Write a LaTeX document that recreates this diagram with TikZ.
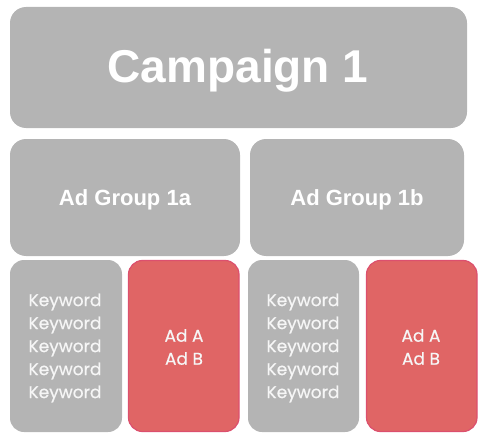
\documentclass[tikz,border=0pt]{standalone}
\usepackage{fontspec}
\setmainfont{Liberation Sans}
\newfontfamily\geofont[FakeBold=0.5]{Poppins}
\definecolor{boxgray}{RGB}{180,180,180}
\definecolor{adred}{RGB}{224,101,101}
\definecolor{adedge}{RGB}{220,80,110}
\definecolor{softwhite}{RGB}{246,246,246}
\tikzset{
  graybox/.style={fill=boxgray, rounded corners=16pt, draw=none},
  redbox/.style={fill=adred, draw=adedge, line width=1.2pt, rounded corners=16pt},
  bigtitle/.style={text=white, font=\fontsize{46}{50}\selectfont\bfseries},
  grouptitle/.style={text=white, font=\fontsize{22}{26}\selectfont\bfseries},
  listtext/.style={text=softwhite, align=center, font=\geofont\fontsize{17}{23}\selectfont},
}
\begin{document}
\begin{tikzpicture}[x=1pt,y=-1pt]
\useasboundingbox (0,0) rectangle (485,436);
% boxes
\fill[graybox] (10,7) rectangle (467,128);
\node[bigtitle] (camp) at (238,71) {Campaign 1};

\fill[graybox] (10,139) rectangle (240,256);
\node[grouptitle] (g1a) at (125,200) {Ad Group 1a};
\fill[graybox] (250,139) rectangle (464,256);
\node[grouptitle] (g1b) at (357,200) {Ad Group 1b};

\fill[graybox, rounded corners=14pt] (10,260) rectangle (122,432);
\node[listtext] (kw1) at (65,348) {Keyword\\Keyword\\Keyword\\Keyword\\Keyword};
\draw[redbox, rounded corners=14pt] (128.5,260.5) rectangle (239,431.5);
\node[listtext] (ad1) at (184,347) {Ad A\\Ad B};

\fill[graybox, rounded corners=14pt] (248,260) rectangle (359,432);
\node[listtext] (kw2) at (303,348) {Keyword\\Keyword\\Keyword\\Keyword\\Keyword};
\draw[redbox, rounded corners=14pt] (366.5,260.5) rectangle (477,431.5);
\node[listtext] (ad2) at (421,347) {Ad A\\Ad B};
\end{tikzpicture}
\end{document}
